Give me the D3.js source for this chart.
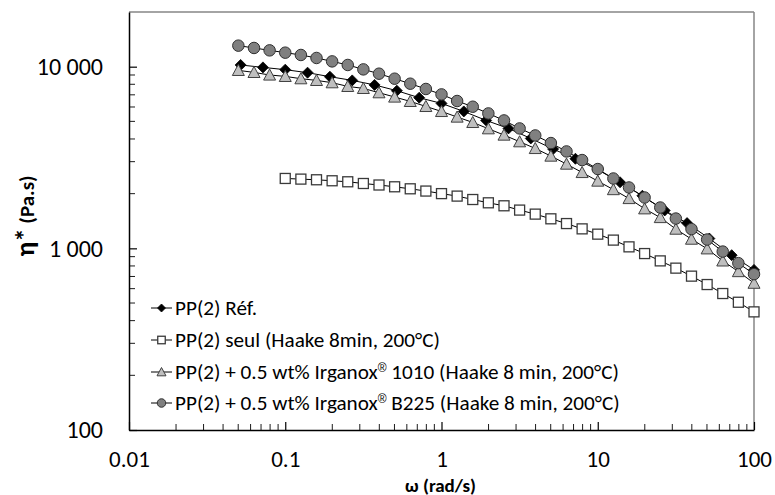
<!DOCTYPE html>
<html><head><meta charset="utf-8">
<script src="https://cdn.jsdelivr.net/npm/d3@7"></script>
<style>body{margin:0;background:#fff}svg{display:block}</style>
</head><body>
<svg id="c" width="775" height="495"></svg>
<script>
// ---- data ----
const omegaRef = [0.0518,0.0720,0.1,0.1389,0.1931,0.2683,0.3728,0.5179,0.7197,1,1.389,1.931,2.683,3.728,5.179,7.197,10,13.89,19.31,26.83,37.28,51.79,71.97,100];
const etaRef = [10218,9911,9627,9269,8809,8405,7937,7375,6749,6279,5671,5060,4572,4027,3520,3112,2707,2310,1947,1616,1377,1132,917,761];

const omegaSeul = [0.1,0.1259,0.1585,0.1995,0.2512,0.3162,0.3981,0.5012,0.631,0.7943,1,1.259,1.585,1.995,2.512,3.162,3.981,5.012,6.31,7.943,10,12.59,15.85,19.95,25.12,31.62,39.81,50.12,63.1,79.43,100];
const etaSeul = [2425,2405,2385,2355,2325,2275,2232,2182,2127,2067,2001,1939,1857,1781,1715,1624,1543,1454,1369,1280,1197,1110,1019,936,853,778,703,632,564,505,447];

const omegaAdd = [0.0501,0.0631,0.0794,0.1,0.1259,0.1585,0.1995,0.2512,0.3162,0.3981,0.5012,0.631,0.7943,1,1.259,1.585,1.995,2.512,3.162,3.981,5.012,6.31,7.943,10,12.59,15.85,19.95,25.12,31.62,39.81,50.12,63.1,79.43,100];
const eta1010 = [9542,9302,9001,8843,8587,8405,8163,7790,7594,7190,6808,6440,6043,5671,5283,4934,4554,4204,3863,3547,3221,2910,2616,2346,2106,1881,1651,1478,1276,1124,994,853,745,643];
const etaB225 = [13056,12678,12297,11945,11600,11166,10696,10219,9663,9150,8587,8060,7538,7038,6472,6020,5529,5060,4572,4183,3798,3415,3062,2732,2424,2163,1905,1678,1459,1276,1118,960,829,721];

const seriesNames = ["PP(2) Réf.","PP(2) seul (Haake 8min, 200°C)","PP(2) + 0.5 wt% Irganox","PP(2) + 0.5 wt% Irganox"];
const seriesSuffix = ["",""," 1010 (Haake 8 min, 200°C)"," B225 (Haake 8 min, 200°C)"];
const xTickValues = [0.01,0.1,1,10,100];
const xTickLabels = ["0.01","0.1","1","10","100"];
const yTickValues = [100,1000,10000];
const yTickLabels = ["100","1 000","10 000"];
const xTitle = "ω (rad/s)";
const yTitleMain = "η*";
const yTitleUnit = " (Pa.s)";

// ---- layout ----
const FONT = "Carlito, Calibri, Lato, 'Open Sans', sans-serif";
const L = 129, R = 754, T = 12, B = 430;
const svg = d3.select("#c");
const x = d3.scaleLog().domain([0.01,100]).range([L,R]);
const y = d3.scaleLog().domain([100,20000]).range([B,T]);

// minor ticks
const xMinor = [], yMinor = [];
[0.01,0.1,1,10].forEach(d=>{for(let i=2;i<=9;i++) xMinor.push(d*i);});
[100,1000,10000].forEach(d=>{for(let i=2;i<=9;i++){const v=d*i; if(v<20000) yMinor.push(v);}});

// frame top/right (gray)
svg.append("line").attr("x1",L).attr("x2",R).attr("y1",T).attr("y2",T).attr("stroke","#868686").attr("stroke-width",1.5);
svg.append("line").attr("x1",R).attr("x2",R).attr("y1",T).attr("y2",B).attr("stroke","#868686").attr("stroke-width",1.5);

// axes
const gx = svg.append("g").attr("transform",`translate(0,${B})`)
  .call(d3.axisBottom(x).tickValues(xTickValues).tickSizeInner(-8).tickSizeOuter(0).tickPadding(21)
    .tickFormat((d,i)=>xTickLabels[i]));
gx.select(".domain").attr("stroke","#000").attr("stroke-width",1.5);
gx.selectAll(".tick line").attr("stroke","#000").attr("stroke-width",1.2);
gx.selectAll(".tick text").attr("font-family",FONT).attr("font-size",23).attr("fill","#000");
svg.append("g").selectAll("line").data(xMinor).join("line")
  .attr("x1",d=>x(d)).attr("x2",d=>x(d)).attr("y1",B).attr("y2",B-6).attr("stroke","#000").attr("stroke-width",0.9);

const gy = svg.append("g").attr("transform",`translate(${L},0)`)
  .call(d3.axisLeft(y).tickValues(yTickValues).tickSizeInner(-8).tickSizeOuter(0).tickPadding(26)
    .tickFormat((d,i)=>yTickLabels[i]));
gy.select(".domain").attr("stroke","#000").attr("stroke-width",1.5);
gy.selectAll(".tick line").attr("stroke","#000").attr("stroke-width",1.2);
gy.selectAll(".tick text").attr("font-family",FONT).attr("font-size",24).attr("fill","#000");
svg.append("g").selectAll("line").data(yMinor).join("line")
  .attr("x1",L).attr("x2",L+6).attr("y1",d=>y(d)).attr("y2",d=>y(d)).attr("stroke","#000").attr("stroke-width",0.9);

// titles
svg.append("text").attr("x",(L+R)/2-1).attr("y",491.5).attr("text-anchor","middle")
  .attr("font-family",FONT).attr("font-weight","bold").attr("font-size",19).text(xTitle);
const yt = svg.append("text").attr("transform","translate(34,216) rotate(-90)").attr("text-anchor","middle")
  .attr("font-family",FONT).attr("font-weight","bold");
yt.append("tspan").attr("font-size",27).text(yTitleMain);
yt.append("tspan").attr("font-size",21).text(yTitleUnit);

function marker(g, type, size){
  if(type==="diamond"){
    const h=size/2;
    g.append("path").attr("d",`M0,${-h}L${h},0L0,${h}L${-h},0Z`).attr("fill","#000").attr("stroke","#000").attr("stroke-width",0.8);
  } else if(type==="square"){
    const h=size/2;
    g.append("rect").attr("x",-h).attr("y",-h).attr("width",size).attr("height",size).attr("fill","#fff").attr("stroke","#3a3a3a").attr("stroke-width",1.3);
  } else if(type==="triangle"){
    const h=size/2;
    g.append("path").attr("d",`M0,${-h}L${h},${h*0.85}L${-h},${h*0.85}Z`).attr("fill","#bfbfbf").attr("stroke","#404040").attr("stroke-width",1);
  } else {
    g.append("circle").attr("r",size/2).attr("fill","#808080").attr("stroke","#303030").attr("stroke-width",1);
  }
}

const series = [
  {w:omegaRef, v:etaRef, type:"diamond", size:11},
  {w:omegaSeul, v:etaSeul, type:"square", size:10},
  {w:omegaAdd, v:eta1010, type:"triangle", size:12},
  {w:omegaAdd, v:etaB225, type:"circle", size:11.5},
];
const line = d3.line().x(d=>x(d[0])).y(d=>y(d[1]));
series.forEach(s=>{
  const pts = s.w.map((w,i)=>[w,s.v[i]]);
  const g = svg.append("g");
  g.append("path").attr("d",line(pts)).attr("fill","none").attr("stroke","#000").attr("stroke-width",1);
  pts.forEach(p=>{
    marker(g.append("g").attr("transform",`translate(${x(p[0])},${y(p[1])})`), s.type, s.size);
  });
});

// legend
const legY = [308,340,372,403];
const legSize = [8,7.5,9,8.5];
series.forEach((s,i)=>{
  const g = svg.append("g").attr("transform",`translate(0,${legY[i]})`);
  g.append("line").attr("x1",151).attr("x2",172).attr("stroke","#000").attr("stroke-width",1);
  marker(g.append("g").attr("transform","translate(161.5,0)"), s.type, legSize[i]);
  const t = g.append("text").attr("x",175).attr("y",7).attr("font-family",FONT).attr("font-size",21.2).attr("fill","#000");
  t.append("tspan").text(seriesNames[i]);
  if(i>=2){
    t.append("tspan").attr("font-family","'Liberation Sans', 'DejaVu Sans', sans-serif").attr("font-size",12).attr("dy",-7).text("®");
    t.append("tspan").attr("dy",7).text(seriesSuffix[i]);
  }
});
</script>
</body></html>
